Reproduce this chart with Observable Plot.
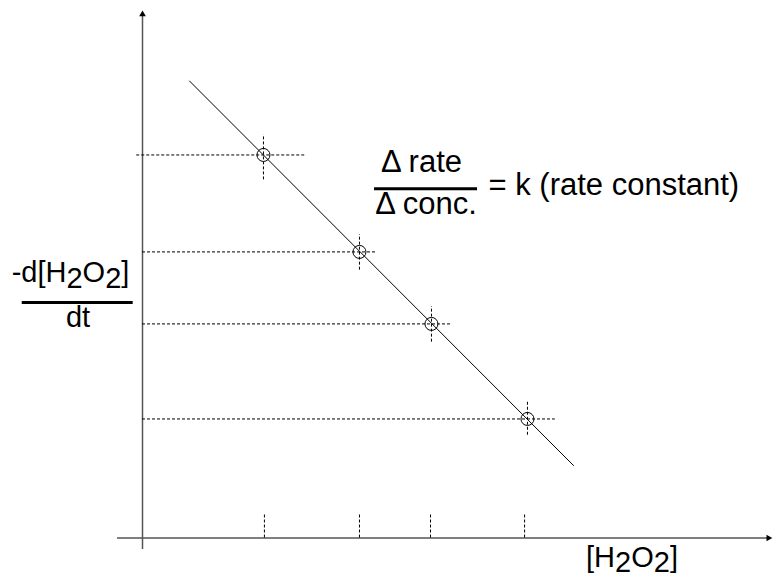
<!DOCTYPE html>
<html>
<head>
<meta charset="utf-8">
<script src="https://cdn.jsdelivr.net/npm/d3@7"></script>
<script src="https://cdn.jsdelivr.net/npm/@observablehq/plot@0.6"></script>
<style>
  html, body { margin: 0; padding: 0; background: #fff; }
  #chart svg { display: block; }
</style>
</head>
<body>
<div id="chart"></div>
<script>
// ---- data (arbitrary units) ----
const conc = [1.26, 2.26, 3.01, 4.01];          // [H2O2]
const rate = [3.99, 2.98, 2.23, 1.24];          // -d[H2O2]/dt
const fitConc = [0.49, 4.49];                   // fitted line ends
const fitRate = [4.76, 0.755];
const guideStart = [-0.06, 0, 0, 0];            // horizontal dashed guides
const guideEnd = [1.70, 2.43, 3.23, 4.30];
const vGuideTop = [4.20, 3.16, 2.41, 1.43];     // vertical dashed guides
const vGuideBottom = [3.73, 2.79, 2.04, 1.07];
const tickConc = [1.27, 2.26, 3.0, 3.98];       // dashed ticks on x axis
const tickHeight = 0.26;
const yLabelTop = "-d[H2O2]";
const yLabelBottom = "dt";
const xLabel = "[H2O2]";
const ratioTop = "Δ rate";
const ratioBottom = "Δ conc.";
const ratioRhs = "= k (rate constant)";

const points = conc.map((c, i) => ({c, r: rate[i], x1: guideStart[i], x2: guideEnd[i], yt: vGuideTop[i], yb: vGuideBottom[i]}));
const fit = fitConc.map((c, i) => ({c, r: fitRate[i]}));
const ticks = tickConc.map(c => ({c}));

const font = "'Liberation Sans', Arial, Helvetica, sans-serif";
const dash = "3,2";

const chart = Plot.plot({
  width: 773,
  height: 579,
  margin: 0,
  style: {background: "#fff", fontFamily: font, color: "#000"},
  x: {type: "linear", domain: [0, 6.5], range: [142, 766], axis: null},
  y: {type: "linear", domain: [0, 5.5], range: [537.5, 9.5], axis: null},
  marks: [
    // axes
    Plot.ruleY([0], {x1: -0.26, x2: 6.52, stroke: "#555", strokeWidth: 1.5}),
    Plot.ruleX([0], {y1: -0.12, y2: 5.45, stroke: "#555", strokeWidth: 1.5}),
    Plot.dot([{x: 6.52, y: 0}], {x: "x", y: "y", symbol: "triangle2", r: 3.2, fill: "#000", stroke: null, rotate: 90}),
    Plot.dot([{x: 0, y: 5.455}], {x: "x", y: "y", symbol: "triangle2", r: 3.2, fill: "#000", stroke: null}),
    // dashed ticks on x axis
    Plot.ruleX(ticks, {x: "c", y1: 0, y2: tickHeight, stroke: "#000", strokeWidth: 1, strokeDasharray: dash}),
    // dashed guides
    Plot.ruleY(points, {y: "r", x1: "x1", x2: "x2", stroke: "#000", strokeWidth: 1, strokeDasharray: dash}),
    Plot.ruleX(points, {x: "c", y1: "yb", y2: "yt", stroke: "#000", strokeWidth: 1, strokeDasharray: dash}),
    // fitted line
    Plot.line(fit, {x: "c", y: "r", stroke: "#000", strokeWidth: 1}),
    // data points
    Plot.dot(points, {x: "c", y: "r", r: 6.5, stroke: "#000", strokeWidth: 1, fill: "none"}),
    // ratio annotation
    Plot.text([ratioTop], {x: 2.906, y: 3.811, text: d => d, textAnchor: "middle", lineAnchor: "bottom", fontSize: 31}),
    Plot.ruleY([3.638], {x1: 2.417, x2: 3.49, stroke: "#000", strokeWidth: 3}),
    Plot.text([ratioBottom], {x: 2.953, y: 3.38, text: d => d, textAnchor: "middle", lineAnchor: "bottom", fontSize: 31}),
    Plot.text([ratioRhs], {x: 3.604, y: 3.575, text: d => d, textAnchor: "start", lineAnchor: "bottom", fontSize: 31}),
    // y label
    Plot.text([yLabelTop], {x: -0.75, y: 2.665, text: d => d, textAnchor: "middle", lineAnchor: "bottom", fontSize: 29}),
    Plot.ruleY([2.453], {x1: -1.253, x2: -0.097, stroke: "#000", strokeWidth: 3}),
    Plot.text([yLabelBottom], {x: -0.672, y: 2.196, text: d => d, textAnchor: "middle", lineAnchor: "bottom", fontSize: 29}),
    // x label
    Plot.text([xLabel], {x: 5.099, y: -0.30, text: d => d, textAnchor: "middle", lineAnchor: "bottom", fontSize: 29})
  ]
});

// turn the "2" of H2O2 into subscripts
d3.select(chart).selectAll("text").each(function() {
  const t = this.textContent;
  if (!t.includes("H2O2")) return;
  const parts = t.split(/(H)2(O)2/);
  const sel = d3.select(this);
  sel.text(null);
  const segs = [[parts[0] + "H", 0], ["2", 1], ["O", -1], ["2", 1], [parts[parts.length - 1], -1]];
  for (const [s, shift] of segs) {
    const ts = sel.append("tspan").text(s);
    if (shift) ts.attr("dy", `${shift * 0.19}em`);
  }
});

document.getElementById("chart").appendChild(chart);
</script>
</body>
</html>
